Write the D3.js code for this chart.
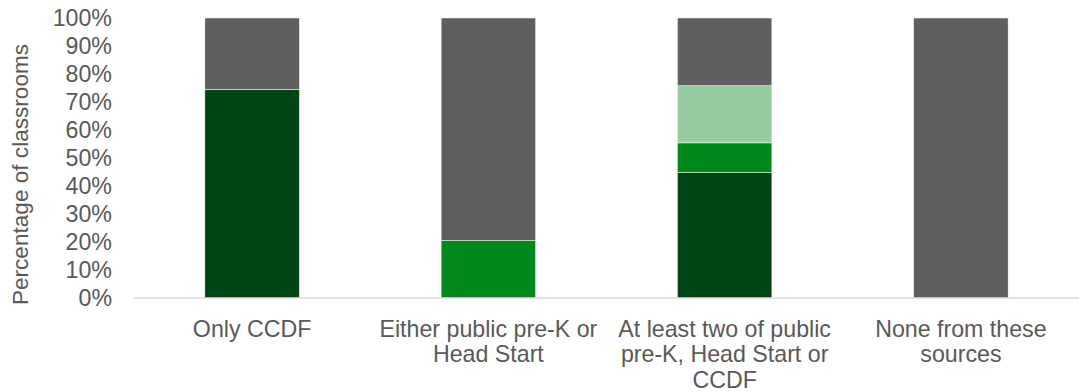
<!DOCTYPE html>
<html>
<head>
<meta charset="utf-8">
<script src="https://cdn.jsdelivr.net/npm/d3@7"></script>
<style>
  html, body { margin: 0; padding: 0; background: #fff; }
  svg { display: block; font-family: "Liberation Sans", Arial, sans-serif; }
</style>
</head>
<body>
<svg id="chart" width="1079" height="392"></svg>
<script>
// Funding source groups shown along the x axis
const categories = [
  "Only CCDF",
  "Either public pre-K or Head Start",
  "At least two of public pre-K, Head Start or CCDF",
  "None from these sources"
];
// Wrapped label lines for each category
const categoryLines = [
  ["Only CCDF"],
  ["Either public pre-K or", "Head Start"],
  ["At least two of public", "pre-K, Head Start or", "CCDF"],
  ["None from these", "sources"]
];

// Stacked segment values (percent of classrooms), bottom to top
const seriesKeys = ["darkGreen", "midGreen", "lightGreen", "gray"];
const darkGreen  = [74.5, 0,    44.8, 0];
const midGreen   = [0,    20.5, 10.6, 0];
const lightGreen = [0,    0,    20.4, 0];
const gray       = [25.5, 79.5, 24.2, 100];

const yTicks = [0, 10, 20, 30, 40, 50, 60, 70, 80, 90, 100];
const colors = {
  darkGreen: "#004413",
  midGreen: "#00881f",
  lightGreen: "#97cca1",
  gray: "#5f5f5f"
};

const rows = categories.map((c, i) => ({
  category: c,
  darkGreen: darkGreen[i],
  midGreen: midGreen[i],
  lightGreen: lightGreen[i],
  gray: gray[i]
}));

const svg = d3.select("#chart");
const textColor = "#595959";
const fontSize = 23.2;

const x = d3.scaleBand()
  .domain(categories)
  .range([134, 1079])
  .paddingInner(0.6)
  .paddingOuter(0.3);

const y = d3.scaleLinear().domain([0, 100]).range([298, 18]);

const stacked = d3.stack().keys(seriesKeys)(rows);

// Bars
svg.append("g")
  .selectAll("g")
  .data(stacked)
  .join("g")
  .attr("fill", d => colors[d.key])
  .selectAll("rect")
  .data(d => d.filter(s => s[1] - s[0] > 0))
  .join("rect")
  .attr("x", d => x(d.data.category))
  .attr("width", x.bandwidth())
  .attr("y", d => y(d[1]))
  .attr("height", d => y(d[0]) - y(d[1]))
  .attr("stroke", "#ffffff")
  .attr("stroke-width", 0.5);

// Baseline
svg.append("line")
  .attr("x1", 134).attr("x2", 1079)
  .attr("y1", y(0)).attr("y2", y(0))
  .attr("stroke", "#d9d9d9")
  .attr("stroke-width", 1.5);

// Y axis tick labels
const yAxis = d3.axisLeft(y)
  .tickValues(yTicks)
  .tickFormat(d => d + "%")
  .tickSize(0)
  .tickPadding(0);

const yG = svg.append("g")
  .attr("transform", "translate(112,0)")
  .call(yAxis);
yG.select(".domain").remove();
yG.selectAll("text")
  .attr("fill", textColor)
  .attr("font-size", fontSize)
  .attr("font-family", "Liberation Sans, Arial, sans-serif");

// X axis category labels
const xAxis = d3.axisBottom(x).tickSize(0).tickFormat("");
const xG = svg.append("g")
  .attr("transform", `translate(0,${y(0)})`)
  .call(xAxis);
xG.select(".domain").remove();
xG.selectAll(".tick").each(function(d, i) {
  const t = d3.select(this).append("text")
    .attr("fill", textColor)
    .attr("font-size", fontSize)
    .attr("font-family", "Liberation Sans, Arial, sans-serif")
    .attr("text-anchor", "middle");
  categoryLines[i].forEach((line, j) => {
    t.append("tspan")
      .attr("x", 0)
      .attr("y", 38.5 + j * 25.6)
      .text(line);
  });
});

// Y axis title
svg.append("text")
  .attr("transform", "translate(28,174.5) rotate(-90)")
  .attr("text-anchor", "middle")
  .attr("fill", textColor)
  .attr("font-size", 22.6)
  .attr("font-family", "Liberation Sans, Arial, sans-serif")
  .text("Percentage of classrooms");
</script>
</body>
</html>
